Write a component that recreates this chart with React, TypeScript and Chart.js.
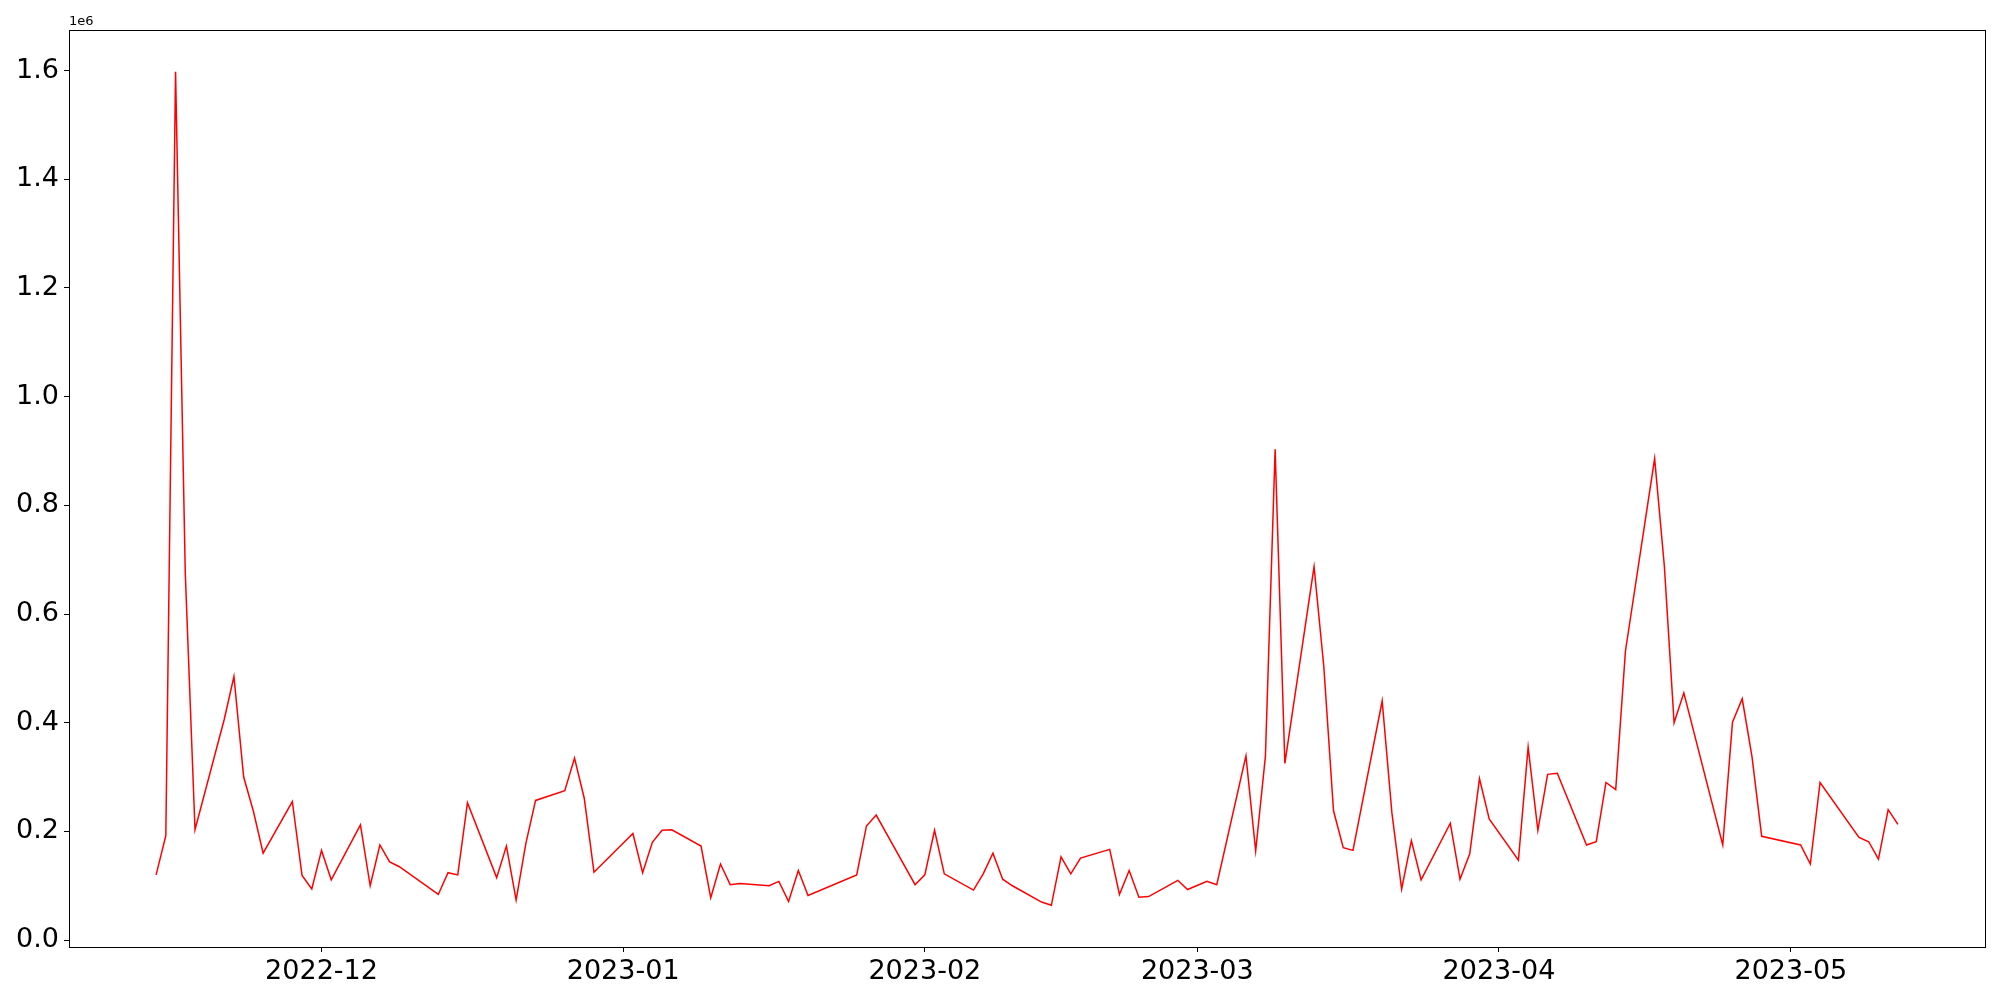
import React, { useEffect, useRef } from "react";
import { Chart, registerables } from "chart.js";

Chart.register(...registerables);

const dates: string[] = [
  "2022-11-14", "2022-11-15", "2022-11-16", "2022-11-17", "2022-11-18",
  "2022-11-21", "2022-11-22", "2022-11-23", "2022-11-24", "2022-11-25",
  "2022-11-28", "2022-11-29", "2022-11-30", "2022-12-01", "2022-12-02",
  "2022-12-05", "2022-12-06", "2022-12-07", "2022-12-08", "2022-12-09",
  "2022-12-13", "2022-12-14", "2022-12-15", "2022-12-16",
  "2022-12-19", "2022-12-20", "2022-12-21", "2022-12-22", "2022-12-23",
  "2022-12-26", "2022-12-27", "2022-12-28", "2022-12-29",
  "2023-01-02", "2023-01-03", "2023-01-04", "2023-01-05", "2023-01-06",
  "2023-01-09", "2023-01-10", "2023-01-11", "2023-01-12", "2023-01-13",
  "2023-01-16", "2023-01-17", "2023-01-18", "2023-01-19", "2023-01-20",
  "2023-01-25", "2023-01-26", "2023-01-27",
  "2023-01-31", "2023-02-01", "2023-02-02", "2023-02-03",
  "2023-02-06", "2023-02-07", "2023-02-08", "2023-02-09", "2023-02-10",
  "2023-02-13", "2023-02-14", "2023-02-15", "2023-02-16", "2023-02-17",
  "2023-02-20", "2023-02-21", "2023-02-22", "2023-02-23", "2023-02-24",
  "2023-02-27", "2023-02-28", "2023-03-02", "2023-03-03",
  "2023-03-06", "2023-03-07", "2023-03-08", "2023-03-09", "2023-03-10",
  "2023-03-13", "2023-03-14", "2023-03-15", "2023-03-16", "2023-03-17",
  "2023-03-20", "2023-03-21", "2023-03-22", "2023-03-23", "2023-03-24",
  "2023-03-27", "2023-03-28", "2023-03-29", "2023-03-30", "2023-03-31",
  "2023-04-03", "2023-04-04", "2023-04-05", "2023-04-06", "2023-04-07",
  "2023-04-10", "2023-04-11", "2023-04-12", "2023-04-13", "2023-04-14",
  "2023-04-17", "2023-04-18", "2023-04-19", "2023-04-20",
  "2023-04-24", "2023-04-25", "2023-04-26", "2023-04-27", "2023-04-28",
  "2023-05-02", "2023-05-03", "2023-05-04",
  "2023-05-08", "2023-05-09", "2023-05-10", "2023-05-11", "2023-05-12",
];

const values: number[] = [
  120000, 192000, 1598000, 675000, 203000,
  406000, 485000, 300000, 237000, 160000,
  255000, 119000, 94000, 165000, 111000,
  212000, 100000, 175000, 144000, 135000,
  84000, 124000, 120000, 253000,
  115000, 173000, 74000, 178000, 257000,
  275000, 335000, 261000, 125000,
  196000, 124000, 180000, 202000, 203000,
  173000, 78000, 140000, 102000, 104000,
  100000, 108000, 71000, 128000, 82000,
  120000, 210000, 230000,
  102000, 120000, 202000, 122000,
  92000, 122000, 160000, 112000, 100000,
  70000, 64000, 153000, 122000, 151000,
  167000, 84000, 128000, 79000, 80000,
  110000, 93000, 108000, 102000,
  339000, 164000, 338000, 903000, 325000,
  687000, 504000, 238000, 170000, 165000,
  440000, 234000, 94000, 183000, 111000,
  215000, 112000, 159000, 297000, 223000,
  147000, 355000, 202000, 305000, 307000,
  175000, 181000, 290000, 277000, 532000,
  886000, 688000, 400000, 455000,
  175000, 401000, 444000, 338000, 191000,
  175000, 140000, 290000,
  189000, 181000, 149000, 240000, 213000,
];

const monthTicks: string[] = ["2022-12-01", "2023-01-01", "2023-02-01", "2023-03-01", "2023-04-01", "2023-05-01"];
const monthLabels: string[] = ["2022-12", "2023-01", "2023-02", "2023-03", "2023-04", "2023-05"];
const yTicks: number[] = [0, 200000, 400000, 600000, 800000, 1000000, 1200000, 1400000, 1600000];
const offsetLabel = "1e6";

const FONT = "'DejaVu Sans', sans-serif";

const toDay = (s: string) =>
  Date.UTC(+s.slice(0, 4), +s.slice(5, 7) - 1, +s.slice(8, 10)) / 86400000;

export default function App() {
  const ref = useRef<HTMLCanvasElement | null>(null);

  useEffect(() => {
    if (!ref.current) return;
    const xs = dates.map(toDay);
    const pts = xs.map((x, i) => ({ x, y: values[i] }));
    const xMinD = Math.min(...xs);
    const xMaxD = Math.max(...xs);
    const xSpan = xMaxD - xMinD;
    const yMinD = Math.min(...values);
    const yMaxD = Math.max(...values);
    const ySpan = yMaxD - yMinD;

    const framePlugin = {
      id: "frame",
      afterDraw(chart: any) {
        const { ctx, chartArea } = chart;
        ctx.save();
        ctx.strokeStyle = "#000";
        ctx.lineWidth = 1;
        ctx.strokeRect(
          Math.round(chartArea.left) + 0.5,
          Math.round(chartArea.top) + 0.5,
          Math.round(chartArea.right - chartArea.left),
          Math.round(chartArea.bottom - chartArea.top)
        );
        ctx.fillStyle = "#000";
        ctx.font = "13px " + FONT;
        ctx.textAlign = "left";
        ctx.textBaseline = "alphabetic";
        ctx.fillText(offsetLabel, chartArea.left, chartArea.top - 5);
        ctx.restore();
      },
    };

    const chart = new Chart(ref.current, {
      type: "line",
      data: {
        datasets: [
          {
            data: pts,
            borderColor: "#ff0000",
            borderWidth: 1.5,
            pointRadius: 0,
            fill: false,
            tension: 0,
          },
        ],
      },
      options: {
        animation: false,
        responsive: false,
        layout: { padding: { top: 30, right: 15, left: 0, bottom: 0 } },
        plugins: { legend: { display: false }, tooltip: { enabled: false } },
        scales: {
          x: {
            type: "linear",
            min: xMinD - 0.05 * xSpan,
            max: xMaxD + 0.05 * xSpan,
            afterBuildTicks: (s: any) => {
              s.ticks = monthTicks.map((m) => ({ value: toDay(m) }));
            },
            afterFit: (s: any) => {
              s.height = 53;
            },
            ticks: {
              autoSkip: false,
              maxRotation: 0,
              padding: 4,
              color: "#000",
              font: { family: FONT, size: 27 },
              callback: (_v: any, i: number) => monthLabels[i],
            },
            grid: {
              display: true,
              drawOnChartArea: false,
              drawTicks: true,
              tickLength: 5,
              color: "#000",
            },
            border: { display: true, color: "#000", width: 1 },
          },
          y: {
            type: "linear",
            min: yMinD - 0.05 * ySpan,
            max: yMaxD + 0.05 * ySpan,
            afterBuildTicks: (s: any) => {
              s.ticks = yTicks.map((v) => ({ value: v }));
            },
            afterFit: (s: any) => {
              s.width = 69;
            },
            ticks: {
              autoSkip: false,
              padding: 5,
              color: "#000",
              font: { family: FONT, size: 27 },
              callback: (v: any) => (Number(v) / 1e6).toFixed(1),
            },
            grid: {
              display: true,
              drawOnChartArea: false,
              drawTicks: true,
              tickLength: 5,
              color: "#000",
            },
            border: { display: true, color: "#000", width: 1 },
          },
        },
      },
      plugins: [framePlugin],
    } as any);

    return () => chart.destroy();
  }, []);

  return (
    <div style={{ position: "fixed", left: 0, top: 0, width: 2000, height: 1000, background: "#fff" }}>
      <canvas ref={ref} width={2000} height={1000} style={{ display: "block" }} />
    </div>
  );
}
